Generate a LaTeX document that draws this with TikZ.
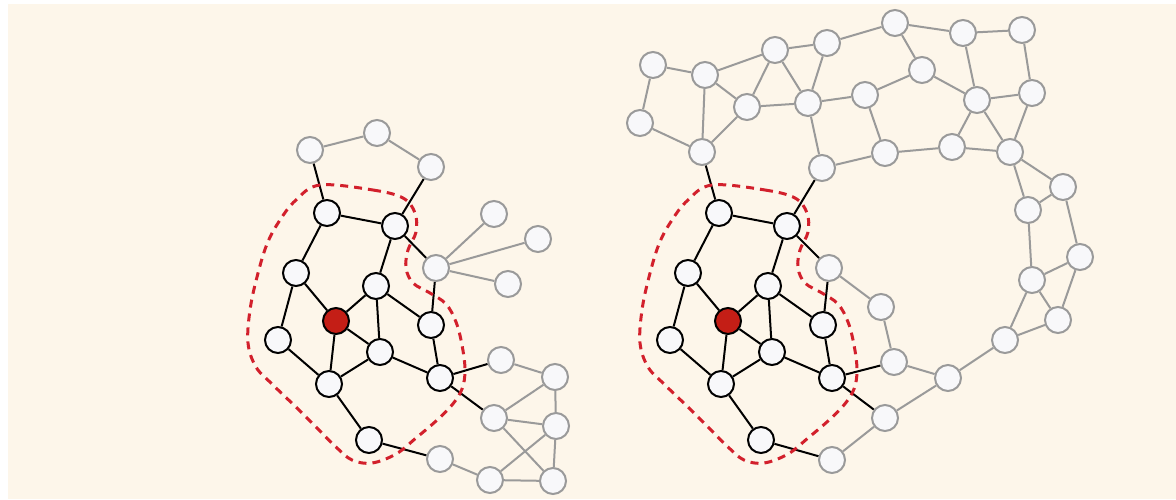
\documentclass[tikz,border=0pt]{standalone}
\usetikzlibrary{calc}
\definecolor{bgc}{HTML}{FDF6EA}
\definecolor{nfill}{HTML}{F8F8FA}
\definecolor{gline}{HTML}{9A9A9A}
\definecolor{redn}{HTML}{C41E16}
\definecolor{dashc}{HTML}{D2202C}
\pgfdeclarelayer{bg}
\pgfsetlayers{bg,main}
\begin{document}
\begin{tikzpicture}[x=0.5pt,y=-0.5pt,
  bn/.style={circle,draw=black,fill=nfill,line width=1pt,minimum size=13pt,inner sep=0pt},
  gn/.style={circle,draw=gline,fill=nfill,line width=1pt,minimum size=13pt,inner sep=0pt},
  rn/.style={circle,draw=black,fill=redn,line width=1pt,minimum size=13pt,inner sep=0pt},
  be/.style={draw=black,line width=1pt},
  ge/.style={draw=gline,line width=1pt},
  hull/.style={draw=dashc,line width=1.5pt,dash pattern=on 4pt off 3pt}]
\useasboundingbox (0,0) rectangle (1176,499);

% ---------- left graph ----------
\node[bn] (Lb1) at (327,213) {};
\node[bn] (Lb2) at (395,226) {};
\node[bn] (Lb3) at (296,273) {};
\node[bn] (Lb4) at (376,286) {};
\node[rn] (Lr)  at (336,321) {};
\node[bn] (Lb5) at (278,340) {};
\node[bn] (Lb6) at (431,325) {};
\node[bn] (Lb7) at (380,352) {};
\node[bn] (Lb8) at (329,384) {};
\node[bn] (Lb9) at (440,378) {};
\node[bn] (Lb10) at (369,440) {};

\node[gn] (Lg1) at (310,150) {};
\node[gn] (Lg2) at (377,133) {};
\node[gn] (Lg3) at (431,167) {};
\node[gn] (Lg4) at (436,268) {};
\node[gn] (Lf1) at (494,214) {};
\node[gn] (Lf2) at (538,239) {};
\node[gn] (Lf3) at (508,284) {};
\node[gn] (Lc1) at (501,360) {};
\node[gn] (Lc2) at (555,377) {};
\node[gn] (Lc3) at (494,418) {};
\node[gn] (Lc4) at (556,426) {};
\node[gn] (Lc5) at (553,481) {};
\node[gn] (Lc6) at (490,480) {};
\node[gn] (Lc7) at (440,459) {};

% ---------- right graph ----------
\node[bn] (Rb1) at (719,213) {};
\node[bn] (Rb2) at (787,226) {};
\node[bn] (Rb3) at (688,273) {};
\node[bn] (Rb4) at (768,286) {};
\node[rn] (Rr)  at (728,321) {};
\node[bn] (Rb5) at (670,340) {};
\node[bn] (Rb6) at (823,325) {};
\node[bn] (Rb7) at (772,352) {};
\node[bn] (Rb8) at (721,384) {};
\node[bn] (Rb9) at (832,378) {};
\node[bn] (Rb10) at (761,440) {};

\node[gn] (R1) at (653,65) {};
\node[gn] (R2) at (705,75) {};
\node[gn] (R3) at (775,50) {};
\node[gn] (R4) at (827,43) {};
\node[gn] (R5) at (895,23) {};
\node[gn] (R6) at (640,123) {};
\node[gn] (R7) at (747,107) {};
\node[gn] (R8) at (808,103) {};
\node[gn] (R9) at (865,95) {};
\node[gn] (R10) at (702,152) {};
\node[gn] (R11) at (822,168) {};
\node[gn] (R12) at (885,153) {};
\node[gn] (R13) at (963,33) {};
\node[gn] (R14) at (1022,30) {};
\node[gn] (R15) at (922,70) {};
\node[gn] (R16) at (977,100) {};
\node[gn] (R17) at (1032,93) {};
\node[gn] (R18) at (952,147) {};
\node[gn] (R19) at (1010,152) {};
\node[gn] (R20) at (1063,187) {};
\node[gn] (R21) at (1028,210) {};
\node[gn] (R22) at (1080,257) {};
\node[gn] (R23) at (1032,280) {};
\node[gn] (R24) at (1058,320) {};
\node[gn] (R25) at (1005,340) {};
\node[gn] (R26) at (948,378) {};
\node[gn] (Q1) at (829,268) {};
\node[gn] (Q2) at (881,307) {};
\node[gn] (Q3) at (894,362) {};
\node[gn] (Q4) at (885,418) {};
\node[gn] (Q5) at (832,460) {};

\begin{pgfonlayer}{bg}
\fill[white] (0,0) rectangle (1176,499);
\fill[bgc] (8,4) rectangle (1176,499);
% left black edges
\foreach \a/\b in {Lb1/Lb2,Lb1/Lb3,Lb2/Lb4,Lb3/Lr,Lb3/Lb5,Lr/Lb4,Lr/Lb7,Lr/Lb8,Lb4/Lb7,Lb4/Lb6,Lb5/Lb8,Lb8/Lb7,Lb7/Lb9,Lb6/Lb9,Lb8/Lb10,
  Lg1/Lb1,Lg3/Lb2,Lb2/Lg4,Lg4/Lb6,Lb9/Lc1,Lb9/Lc3,Lb10/Lc7}
  \draw[be] (\a) -- (\b);
% left gray edges
\foreach \a/\b in {Lg1/Lg2,Lg2/Lg3,Lg4/Lf1,Lg4/Lf2,Lg4/Lf3,Lc1/Lc2,Lc2/Lc3,Lc2/Lc4,Lc3/Lc4,Lc3/Lc5,Lc4/Lc6,Lc4/Lc5,Lc6/Lc5,Lc7/Lc6}
  \draw[ge] (\a) -- (\b);
% right black edges
\foreach \a/\b in {Rb1/Rb2,Rb1/Rb3,Rb2/Rb4,Rb3/Rr,Rb3/Rb5,Rr/Rb4,Rr/Rb7,Rr/Rb8,Rb4/Rb7,Rb4/Rb6,Rb5/Rb8,Rb8/Rb7,Rb7/Rb9,Rb6/Rb9,Rb8/Rb10,
  R10/Rb1,R11/Rb2,Rb2/Q1,Q1/Rb6,Rb9/Q3,Rb9/Q4,Rb10/Q5}
  \draw[be] (\a) -- (\b);
% right gray edges
\foreach \a/\b in {R1/R2,R1/R6,R6/R10,R2/R10,R2/R7,R7/R10,R2/R3,R3/R7,R3/R8,R3/R4,R4/R8,R7/R8,R4/R5,R8/R9,R8/R11,R9/R12,R11/R12,R9/R15,R5/R15,
  R5/R13,R13/R14,R13/R16,R14/R17,R15/R16,R16/R17,R16/R18,R16/R19,R17/R19,R12/R18,R18/R19,R19/R20,R19/R21,R20/R21,R20/R22,R21/R23,
  R22/R23,R22/R24,R23/R24,R23/R25,R24/R25,R25/R26,R26/Q3,R26/Q4,Q1/Q2,Q2/Q3,Q4/Q5}
  \draw[ge] (\a) -- (\b);
\end{pgfonlayer}

% dashed hulls
\foreach \dx in {0,392} {
  \draw[hull] plot[smooth cycle,tension=0.6] coordinates {
    (320+\dx,185) (373+\dx,190) (403+\dx,198) (415+\dx,213) (416+\dx,232) (408+\dx,250) (406+\dx,268)
    (413+\dx,283) (430+\dx,293) (446+\dx,304) (456+\dx,322) (462+\dx,345) (465+\dx,370) (462+\dx,389)
    (452+\dx,405) (436+\dx,421) (416+\dx,438) (396+\dx,454) (372+\dx,463) (352+\dx,460) (336+\dx,447)
    (319+\dx,430) (298+\dx,409) (272+\dx,384) (256+\dx,367) (248+\dx,343) (250+\dx,310) (257+\dx,277)
    (267+\dx,244) (280+\dx,220) (296+\dx,200)};
}
\end{tikzpicture}
\end{document}
